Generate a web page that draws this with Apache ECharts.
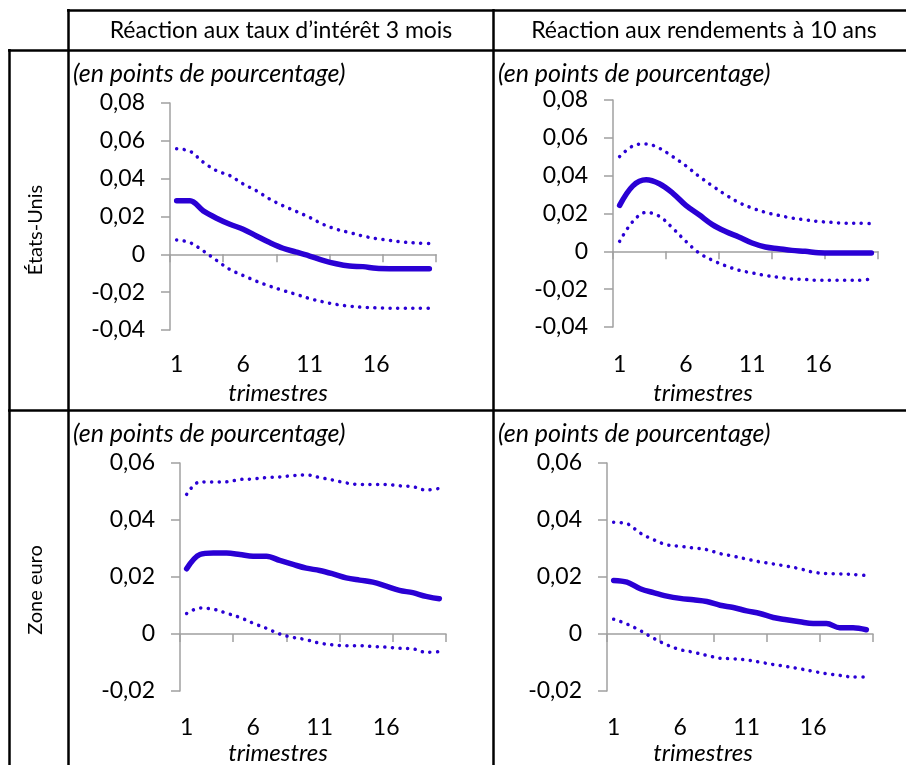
<!DOCTYPE html>
<html lang="fr">
<head>
<meta charset="utf-8">
<title>Réaction aux taux</title>
<script src="https://cdn.jsdelivr.net/npm/echarts@6/dist/echarts.min.js"></script>
<style>
  html, body { margin: 0; padding: 0; background: #fff; }
  #chart { width: 906px; height: 765px; }
</style>
</head>
<body>
<div id="chart"></div>
<script>
const quarters = ['1', '2', '3', '4', '5', '6', '7', '8', '9', '10',
  '11', '12', '13', '14', '15', '16', '17', '18', '19', '20']

const columnTitles = ['Réaction aux taux d’intérêt 3 mois', 'Réaction aux rendements à 10 ans']
const rowTitles = ['États-Unis', 'Zone euro']

// États-Unis, taux 3 mois
const usTauxMid = [0.0283, 0.0283, 0.0230, 0.0191, 0.0159, 0.0133, 0.0097, 0.0062, 0.0032, 0.0012,
  -0.0009, -0.0032, -0.0050, -0.0062, -0.0065, -0.0074, -0.0076, -0.0076, -0.0076, -0.0076]
const usTauxHigh = [0.0558, 0.0545, 0.0487, 0.0442, 0.0416, 0.0372, 0.0336, 0.0292, 0.0257, 0.0227,
  0.0195, 0.0159, 0.0133, 0.0115, 0.0097, 0.0083, 0.0074, 0.0065, 0.0060, 0.0057]
const usTauxLow = [0.0076, 0.0062, 0.0018, -0.0032, -0.0080, -0.0112, -0.0142, -0.0168, -0.0191, -0.0212,
  -0.0234, -0.0251, -0.0265, -0.0274, -0.0280, -0.0283, -0.0285, -0.0285, -0.0285, -0.0285]

// États-Unis, rendements 10 ans
const usRendMid = [0.0243, 0.0346, 0.0378, 0.0357, 0.0308, 0.0243, 0.0193, 0.0141, 0.0105, 0.0076,
  0.0044, 0.0023, 0.0014, 0.0005, 0.0000, -0.0007, -0.0009, -0.0009, -0.0009, -0.0009]
const usRendHigh = [0.0501, 0.0557, 0.0568, 0.0545, 0.0501, 0.0452, 0.0396, 0.0346, 0.0299, 0.0258,
  0.0229, 0.0206, 0.0190, 0.0176, 0.0167, 0.0158, 0.0153, 0.0149, 0.0149, 0.0146]
const usRendLow = [0.0053, 0.0158, 0.0206, 0.0185, 0.0123, 0.0053, -0.0009, -0.0047, -0.0076, -0.0100,
  -0.0114, -0.0128, -0.0137, -0.0146, -0.0149, -0.0153, -0.0153, -0.0153, -0.0153, -0.0146]

// Zone euro, taux 3 mois
const zeTauxMid = [0.0229, 0.0279, 0.0284, 0.0284, 0.0279, 0.0273, 0.0273, 0.0258, 0.0244, 0.0231,
  0.0223, 0.0211, 0.0197, 0.0189, 0.0182, 0.0168, 0.0153, 0.0145, 0.0132, 0.0124]
const zeTauxHigh = [0.0490, 0.0534, 0.0533, 0.0534, 0.0542, 0.0544, 0.0549, 0.0551, 0.0556, 0.0558,
  0.0549, 0.0540, 0.0530, 0.0525, 0.0525, 0.0525, 0.0520, 0.0517, 0.0505, 0.0511]
const zeTauxLow = [0.0072, 0.0091, 0.0087, 0.0073, 0.0058, 0.0038, 0.0020, 0.0000, -0.0012, -0.0020,
  -0.0032, -0.0038, -0.0041, -0.0041, -0.0044, -0.0046, -0.0050, -0.0052, -0.0064, -0.0062]

// Zone euro, rendements 10 ans
const zeRendMid = [0.0188, 0.0182, 0.0159, 0.0145, 0.0133, 0.0125, 0.0120, 0.0114, 0.0101, 0.0093,
  0.0081, 0.0072, 0.0058, 0.0050, 0.0043, 0.0037, 0.0037, 0.0022, 0.0022, 0.0015]
const zeRendHigh = [0.0392, 0.0387, 0.0354, 0.0331, 0.0313, 0.0308, 0.0302, 0.0296, 0.0282, 0.0273,
  0.0263, 0.0253, 0.0246, 0.0238, 0.0229, 0.0217, 0.0212, 0.0211, 0.0209, 0.0205]
const zeRendLow = [0.0052, 0.0035, 0.0012, -0.0015, -0.0038, -0.0055, -0.0064, -0.0075, -0.0085, -0.0087,
  -0.0091, -0.0099, -0.0107, -0.0114, -0.0122, -0.0131, -0.0139, -0.0145, -0.0151, -0.0151]

const panelSeries = [
  [usTauxMid, usTauxHigh, usTauxLow],
  [usRendMid, usRendHigh, usRendLow],
  [zeTauxMid, zeTauxHigh, zeTauxLow],
  [zeRendMid, zeRendHigh, zeRendLow],
]
// y-axis range for each panel: [min, max]
const panelRanges = [[-0.04, 0.08], [-0.04, 0.08], [-0.02, 0.06], [-0.02, 0.06]]

const unitLabel = '(en points de pourcentage)'
const xAxisLabel = 'trimestres'

// layout (pixels)
const grids = [
  { left: 170, top: 103, width: 266, height: 227 },
  { left: 613, top: 100, width: 265, height: 227 },
  { left: 180, top: 463, width: 266, height: 228 },
  { left: 607, top: 463, width: 266, height: 228 },
]
const labelTops = [353, 353, 716, 716]
const unitPos = [[73, 74], [498, 74], [73, 434], [498, 434]]
const trimPos = [[278, 393], [703, 393], [278, 753], [703, 753]]

const BLUE = '#2a00d4'
const AXIS = '#a0a0a0'
const FONT = 'Lato'

const fmt = (v) => (Math.abs(v) < 1e-9 ? '0' : v.toFixed(2).replace('.', ','))

const myChart = echarts.init(document.getElementById('chart'), null, { renderer: 'canvas' })

const xAxis = grids.map((g, i) => {
  const [lo, hi] = panelRanges[i]
  // x axis sits on the zero line: move it up from the grid bottom
  const zeroUp = (g.height * (0 - lo)) / (hi - lo)
  const zeroY = g.top + g.height - zeroUp
  return {
    type: 'category',
    gridIndex: i,
    position: 'bottom',
    offset: -zeroUp,
    data: quarters,
    boundaryGap: true,
    axisLine: { show: true, onZero: false, lineStyle: { color: AXIS, width: 1.5 } },
    axisTick: { show: true, interval: 3, length: 8, lineStyle: { color: AXIS, width: 1.5 } },
    axisLabel: {
      show: true,
      interval: 4,
      margin: labelTops[i] - zeroY,
      color: '#000',
      fontFamily: FONT,
      fontSize: 23,
    },
    splitLine: { show: false },
  }
})

const yAxis = grids.map((g, i) => ({
  type: 'value',
  gridIndex: i,
  min: panelRanges[i][0],
  max: panelRanges[i][1],
  interval: 0.02,
  axisLine: { show: true, onZero: false, lineStyle: { color: AXIS, width: 1.5 } },
  axisTick: { show: true, length: 9, lineStyle: { color: AXIS, width: 1.5 } },
  axisLabel: { margin: 25, color: '#000', fontFamily: FONT, fontSize: 23, formatter: fmt },
  splitLine: { show: false },
}))

const series = []
panelSeries.forEach((arr, i) => {
  const [mid, high, low] = arr
  ;[high, low].forEach((d) => {
    series.push({
      type: 'line',
      xAxisIndex: i,
      yAxisIndex: i,
      data: d,
      smooth: 0.35,
      showSymbol: false,
      silent: true,
      lineStyle: { color: BLUE, width: 3.5, type: [0.1, 7.5], cap: 'round' },
    })
  })
  series.push({
    type: 'line',
    xAxisIndex: i,
    yAxisIndex: i,
    data: mid,
    smooth: 0.35,
    showSymbol: false,
    silent: true,
    lineStyle: { color: BLUE, width: 5.5, cap: 'round', join: 'round' },
  })
})

const line = (x1, y1, x2, y2) => ({
  type: 'line',
  shape: { x1, y1, x2, y2 },
  style: { stroke: '#000', lineWidth: 2.5 },
  z: 10,
})
const text = (x, y, str, font, extra) => ({
  type: 'text',
  x,
  y,
  style: Object.assign({ text: str, font, fill: '#000', align: 'center', verticalAlign: 'middle' }, extra || {}),
  z: 10,
})

const graphic = [
  // table borders
  line(67, 10.5, 906, 10.5),
  line(68.5, 9, 68.5, 765),
  line(493.5, 9, 493.5, 765),
  line(8, 50.5, 906, 50.5),
  line(9.5, 49, 9.5, 765),
  line(8, 410.5, 906, 410.5),
  // headers
  text(281, 31, columnTitles[0], '23px ' + FONT),
  text(704, 31, columnTitles[1], '23px ' + FONT),
  Object.assign(text(36, 230, rowTitles[0], '20px ' + FONT), { rotation: Math.PI / 2 }),
  Object.assign(text(36, 590, rowTitles[1], '20px ' + FONT), { rotation: Math.PI / 2 }),
]
unitPos.forEach(([x, y]) => {
  graphic.push(text(x, y, unitLabel, 'italic 25px ' + FONT, { align: 'left' }))
})
trimPos.forEach(([x, y]) => {
  graphic.push(text(x, y, xAxisLabel, 'italic 24px ' + FONT))
})

myChart.setOption({
  animation: false,
  backgroundColor: '#fff',
  grid: grids.map((g) => Object.assign({ containLabel: false }, g)),
  xAxis,
  yAxis,
  series,
  graphic,
})
</script>
</body>
</html>
